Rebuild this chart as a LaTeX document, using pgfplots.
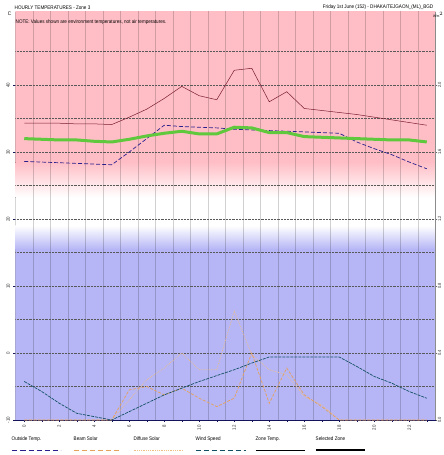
\documentclass[border=0pt]{standalone}
\usepackage{pgfplots}
\pgfplotsset{compat=1.18}
\usepackage{fontspec}
\setmainfont[FakeStretch=0.88]{Liberation Sans}
\definecolor{bgpink}{RGB}{255,190,198}
\definecolor{bgblue}{RGB}{182,182,246}
\definecolor{outc}{RGB}{40,30,140}
\definecolor{zonec}{RGB}{120,30,50}
\definecolor{selc}{RGB}{95,200,60}
\definecolor{windc}{RGB}{20,80,100}
\definecolor{beamc}{RGB}{230,160,90}
\definecolor{diffc}{RGB}{240,190,130}
\definecolor{axc}{RGB}{20,20,90}
\pgfplotstableread{
h outside zone sel
0 28.6 34.3 32.0
1 28.5 34.3 31.9
2 28.4 34.3 31.8
3 28.3 34.2 31.8
4 28.2 34.2 31.6
5 28.1 34.1 31.5
6 30.0 35.2 31.9
7 32.0 36.4 32.4
8 34.0 38.0 32.8
9 33.8 39.8 33.1
10 33.7 38.4 32.7
11 33.6 37.8 32.7
12 33.4 42.2 33.7
13 33.3 42.5 33.6
14 33.2 37.5 32.9
15 33.1 39.0 32.9
16 33.0 36.5 32.3
17 32.9 36.2 32.2
18 32.8 35.9 32.1
19 31.5 35.6 32.0
20 30.5 35.2 31.9
21 29.6 34.8 31.8
22 28.5 34.4 31.8
23 27.5 34.0 31.5
}\temps
\pgfplotstableread{
h beam diffuse wind
0 0 0 0.23
1 0 0 0.17
2 0 0 0.10
3 0 0 0.04
4 0 0 0.02
5 0 0 0.0
6 0.18 0.12 0.05
7 0.20 0.24 0.10
8 0.15 0.31 0.15
9 0.19 0.40 0.19
10 0.13 0.30 0.23
11 0.08 0.30 0.265
12 0.13 0.65 0.30
13 0.40 0.39 0.34
14 0.10 0.30 0.376
15 0.31 0.27 0.376
16 0.15 0.14 0.376
17 0.08 0.09 0.376
18 0 0 0.376
19 0 0 0.32
20 0 0 0.26
21 0 0 0.22
22 0 0 0.17
23 0 0 0.13
}\solar
\begin{document}
\begin{tikzpicture}[font=\fontsize{5.2}{6}\selectfont]
\useasboundingbox (-15.5pt,-35pt) rectangle (428.5pt,420pt);
\begin{axis}[
  at={(0,0)}, anchor=south west,
  scale only axis, width=420pt, height=408pt,
  xmin=-0.5, xmax=23.5, ymin=-10, ymax=50.9,
  axis y line*=left, axis x line*=bottom,
  x axis line style={axc, line width=1pt},
  y axis line style={black!45, line width=0.5pt},
  xtick={0,2,...,22}, minor xtick={1,3,...,23},
  ytick={-10,0,10,20,30,40},
  tick style={axc, line width=0.5pt}, major tick length=2pt, minor tick length=1.5pt,
  tick align=outside,
  xticklabel style={rotate=90, anchor=east, text=black!80},
  yticklabel style={rotate=90, anchor=south, text=black!80},
  /pgf/number format/assume math mode=true,
  ticklabel style={font=\fontsize{5}{6}\selectfont},
  clip=true,
]
\fill[bgpink] (axis cs:-0.5,28.5) rectangle (axis cs:23.5,51);
\fill[top color=bgpink, bottom color=white] (axis cs:-0.5,23.2) rectangle (axis cs:23.5,28.5);
\fill[white] (axis cs:-0.5,19.0) rectangle (axis cs:23.5,23.2);
\fill[top color=white, bottom color=bgblue] (axis cs:-0.5,15.5) rectangle (axis cs:23.5,19.0);
\fill[bgblue] (axis cs:-0.5,-10) rectangle (axis cs:23.5,15.5);
\pgfplotsinvokeforeach{0.5,1.5,...,22.5}{\draw[black, opacity=0.18, line width=0.5pt] (axis cs:#1,-10) -- (axis cs:#1,51);}
\pgfplotsinvokeforeach{-5,0,...,45}{\draw[black!65, densely dotted, line width=0.45pt] (axis cs:-0.5,#1) -- (axis cs:23.5,#1);}
\addplot[zonec, line width=0.5pt] table[x=h,y=zone] {\temps};
\addplot[outc, line width=0.7pt, dash pattern=on 4pt off 2pt] table[x=h,y=outside] {\temps};
\addplot[selc, line width=3pt, line join=round] table[x=h,y=sel] {\temps};
\end{axis}
\begin{axis}[
  at={(0,0)}, anchor=south west,
  scale only axis, width=420pt, height=408pt,
  xmin=-0.5, xmax=23.5, ymin=0, ymax=2.436,
  axis y line*=right, axis x line=none,
  y axis line style={black!45, line width=0.5pt},
  ytick={0,0.4,...,2.0},
  yticklabel style={rotate=90, anchor=north, inner sep=0.8pt, text=black!80, /pgf/number format/.cd, fixed, fixed zerofill, precision=1},
  tick style={black!60, line width=0.5pt}, major tick length=1.5pt, tick align=outside,
  /pgf/number format/assume math mode=true,
  ticklabel style={font=\fontsize{4.6}{5}\selectfont},
  clip=true,
]
\addplot[diffc, line width=0.7pt, densely dotted] table[x=h,y=diffuse] {\solar};
\addplot[beamc, line width=0.7pt, dash pattern=on 3pt off 1.5pt] table[x=h,y=beam] {\solar};
\addplot[windc, line width=0.7pt, dash pattern=on 3pt off 1pt] table[x=h,y=wind] {\solar};
\end{axis}
% titles
\node[anchor=south west, inner sep=0] at (-1pt,410pt) {HOURLY TEMPERATURES - Zone 3};
\node[anchor=south east, inner sep=0] at (418pt,410pt) {Friday 1st June (152) - DHAKA/TEJGAON\_(ML)\_BGD};
\node[anchor=west, inner sep=0] at (0pt,398pt) {NOTE: Values shown are environment temperatures, not air temperatures.};
\node[anchor=center, inner sep=0] at (-6pt,406pt) {C};
\node[anchor=east, inner sep=0] at (428pt,405pt) {\fontsize{3.5}{4}\selectfont W/m$^2$};
% legend
\node[anchor=west, inner sep=0] at (-4pt,-19pt) {Outside Temp.};
\draw[outc, line width=0.8pt, dash pattern=on 5pt off 3pt] (-3pt,-30pt) -- (45pt,-30pt);
\node[anchor=west, inner sep=0] at (58pt,-19pt) {Beam Solar};
\draw[beamc, line width=0.8pt, dash pattern=on 5pt off 3pt] (58pt,-30pt) -- (105pt,-30pt);
\node[anchor=west, inner sep=0] at (118pt,-19pt) {Diffuse Solar};
\draw[diffc, line width=0.8pt, densely dotted] (118pt,-30pt) -- (168pt,-30pt);
\node[anchor=west, inner sep=0] at (180pt,-19pt) {Wind Speed};
\draw[windc, line width=0.8pt, dash pattern=on 5pt off 3pt] (180pt,-30pt) -- (230pt,-30pt);
\node[anchor=west, inner sep=0] at (240pt,-19pt) {Zone Temp.};
\draw[black, line width=0.8pt] (240pt,-30pt) -- (289pt,-30pt);
\node[anchor=west, inner sep=0] at (300pt,-19pt) {Selected Zone};
\draw[black, line width=2pt] (300pt,-30pt) -- (349pt,-30pt);
\end{tikzpicture}
\end{document}
